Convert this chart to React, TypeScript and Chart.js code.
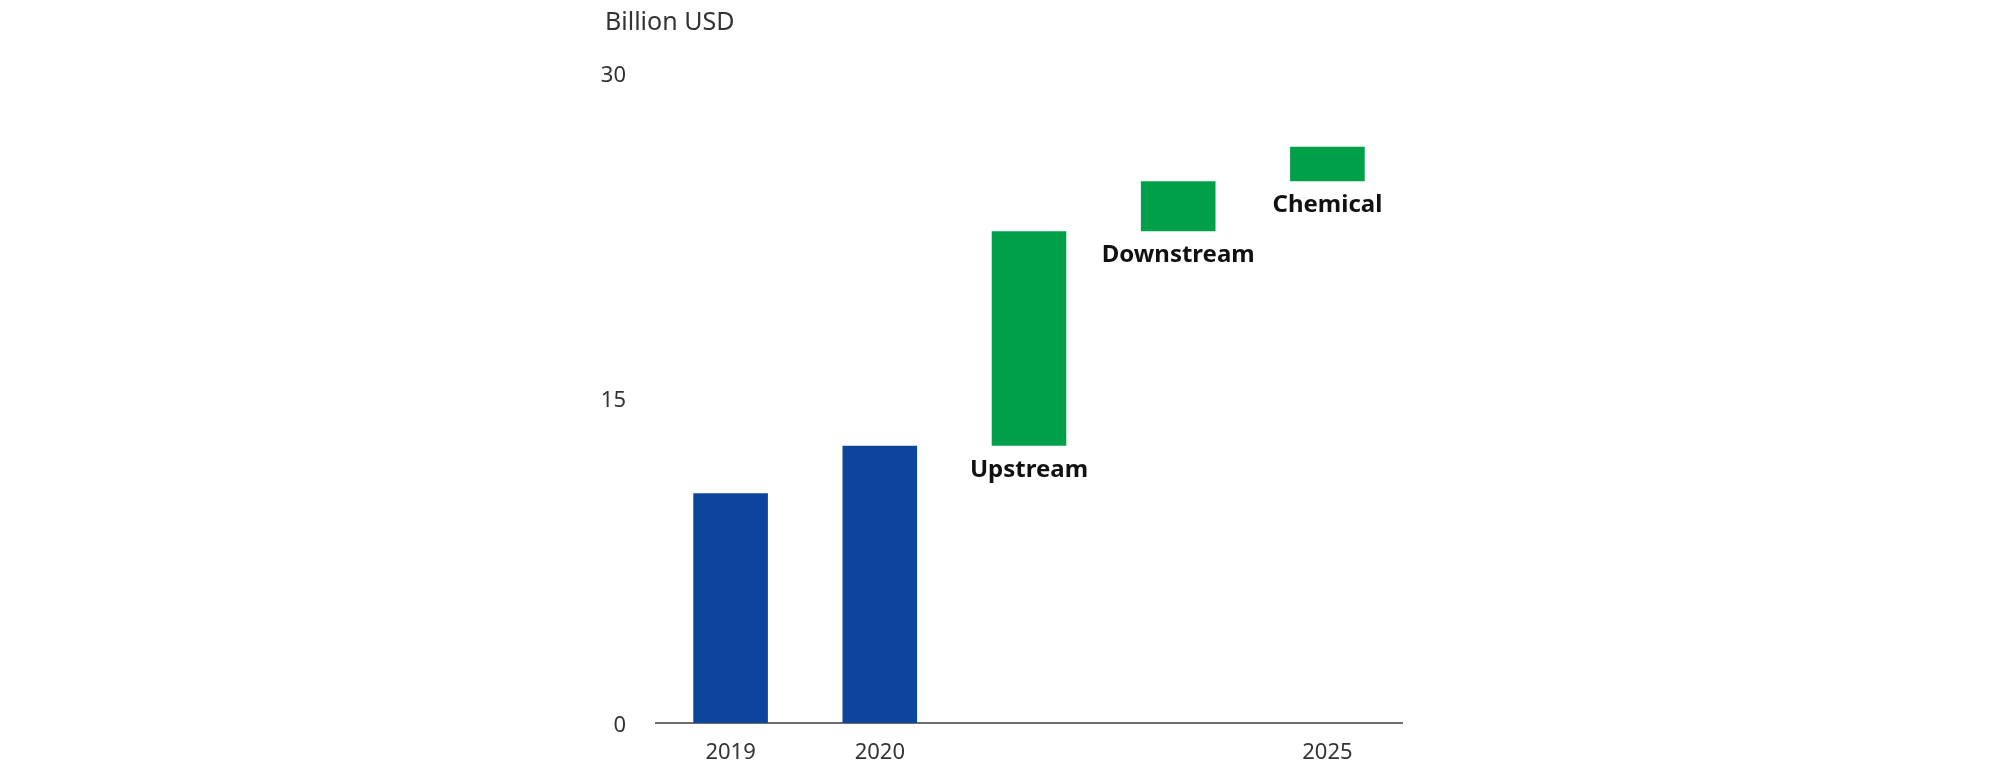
import React, { useEffect, useRef } from "react";
import { Chart, registerables } from "chart.js";

Chart.register(...registerables);

const categories = ["2019", "2020", "Upstream", "Downstream", "Chemical"];
const tickLabels = ["2019", "2020", "", "", "2025"];
const actualValues = [10.6, 12.8];
const increments = [9.9, 2.3, 1.6];
const segmentLabels = ["", "", "Upstream", "Downstream", "Chemical"];
const yTicks = [0, 15, 30];
const unitLabel = "Billion USD";

const BLUE = "#0d459d";
const GREEN = "#00a04b";
const FONT = "'Noto Sans', 'Open Sans', sans-serif";

function buildRanges(): [number, number][] {
  const ranges: [number, number][] = actualValues.map((v) => [0, v] as [number, number]);
  let level = actualValues[actualValues.length - 1];
  increments.forEach((d) => {
    ranges.push([level, +(level + d).toFixed(2)]);
    level = +(level + d).toFixed(2);
  });
  return ranges;
}

const annotatePlugin = {
  id: "annotate",
  afterDatasetsDraw(chart: any) {
    const { ctx, chartArea } = chart;
    const meta = chart.getDatasetMeta(0);
    ctx.save();
    ctx.fillStyle = "#111111";
    ctx.font = `bold 24px ${FONT}`;
    ctx.textAlign = "center";
    ctx.textBaseline = "middle";
    meta.data.forEach((bar: any, i: number) => {
      const label = segmentLabels[i];
      if (!label) return;
      const bottom = Math.max(bar.y, bar.base);
      ctx.fillText(label, bar.x, bottom + 24);
    });
    ctx.fillStyle = "#333333";
    ctx.font = `25px ${FONT}`;
    ctx.textAlign = "left";
    ctx.fillText(unitLabel, chartArea.left - 51, 23);
    ctx.restore();
  },
};

export default function App() {
  const canvasRef = useRef<HTMLCanvasElement | null>(null);

  useEffect(() => {
    if (!canvasRef.current) return;
    const ranges = buildRanges();
    const colors = categories.map((_, i) => (i < actualValues.length ? BLUE : GREEN));
    const chart = new Chart(canvasRef.current, {
      type: "bar",
      data: {
        labels: categories,
        datasets: [
          {
            data: ranges as any,
            backgroundColor: colors,
            borderWidth: 0,
            barPercentage: 0.5,
            categoryPercentage: 1,
          },
        ],
      },
      options: {
        animation: false,
        responsive: false,
        maintainAspectRatio: false,
        layout: { padding: { left: 596, right: 606, top: 73, bottom: 0 } },
        plugins: {
          legend: { display: false },
          tooltip: { enabled: false },
          title: { display: false },
        },
        scales: {
          x: {
            grid: { display: false },
            border: { display: true, color: "#6e6e6e", width: 2 },
            afterFit: (s: any) => {
              s.height = 51;
            },
            ticks: {
              color: "#333333",
              font: { family: FONT, size: 22 },
              padding: 9,
              maxRotation: 0,
              autoSkip: false,
              callback: (_v: any, i: number) => tickLabels[i],
            },
          },
          y: {
            min: 0,
            max: 30,
            grid: { display: false },
            border: { display: false },
            afterFit: (s: any) => {
              s.width = 60;
            },
            afterBuildTicks: (s: any) => {
              s.ticks = yTicks.map((v) => ({ value: v }));
            },
            ticks: {
              color: "#333333",
              font: { family: FONT, size: 22 },
              padding: 22,
              labelOffset: 3,
            },
          },
        },
      },
      plugins: [annotatePlugin],
    });
    return () => chart.destroy();
  }, []);

  return (
    <div style={{ position: "fixed", left: 0, top: 0, width: 2008, height: 774, background: "#ffffff" }}>
      <canvas ref={canvasRef} width={2008} height={774} style={{ width: 2008, height: 774, display: "block" }} />
    </div>
  );
}
